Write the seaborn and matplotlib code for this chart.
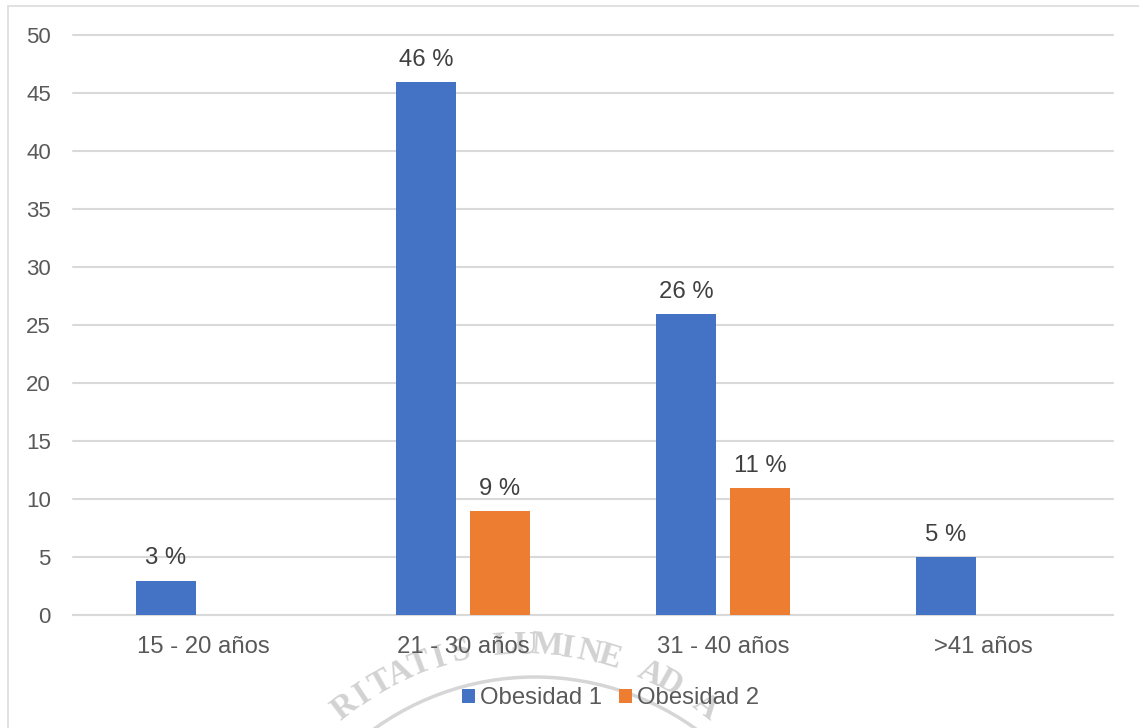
import numpy as np
import pandas as pd
import seaborn as sns
import matplotlib.pyplot as plt
from matplotlib.patches import Arc, Rectangle

categories = ['15 - 20 años', '21 - 30 años', '31 - 40 años', '>41 años']
obesidad_1 = [3, 46, 26, 5]
obesidad_2 = [np.nan, 9, 11, np.nan]
series_names = ['Obesidad 1', 'Obesidad 2']
y_ticks = [0, 5, 10, 15, 20, 25, 30, 35, 40, 45, 50]
watermark = 'RITATIS LUMINE AD A'

W, H = 1139, 728

sns.set_theme(style='white')
plt.rcParams['font.family'] = ['Liberation Sans', 'DejaVu Sans']

df = pd.DataFrame({'grupo': categories, series_names[0]: obesidad_1, series_names[1]: obesidad_2})
df = df.melt(id_vars='grupo', var_name='serie', value_name='valor')

fig = plt.figure(figsize=(W / 100, H / 100), dpi=100)
ax = fig.add_axes([73 / W, 1 - 615.4 / H, 1040 / W, 580 / H])
ax.set_zorder(2)

# chart frame of the pasted picture
fig.add_artist(Rectangle((8 / W, -0.01), 1140 / W, 1 - 6 / H + 0.01, transform=fig.transFigure,
                         fill=False, ec='#dedede', lw=1.3))

sns.barplot(data=df, x='grupo', y='valor', hue='serie', order=categories,
            palette=['#4472c4', '#ed7d31'], width=0.569, gap=0.2,
            saturation=1, linewidth=0, legend=True, ax=ax, zorder=3)

for cont in ax.containers:
    labels = ['' if np.isnan(v) else f'{v:.0f} %' for v in cont.datavalues]
    ax.bar_label(cont, labels=labels, padding=8, fontsize=17.2, color='#404040')

ax.set_xlim(-0.5, 3.5)
ax.set_ylim(0, 50)
ax.set_yticks(y_ticks)
ax.set_xlabel('')
ax.set_ylabel('')
ax.grid(axis='y', color='#d9d9d9', lw=1.5, zorder=0, clip_on=False)
ax.set_axisbelow(True)
ax.tick_params(axis='x', length=0, pad=15, labelsize=17.2, labelcolor='#595959')
ax.tick_params(axis='y', length=0, pad=16, labelsize=16, labelcolor='#595959')
ax.patch.set_alpha(0)
sns.despine(ax=ax, left=True, bottom=True)
ax.axhline(0, color='#d9d9d9', lw=1.5, zorder=1, clip_on=False)

leg = ax.legend(loc='center', bbox_to_anchor=(610.5 / W, 1 - 698.5 / H), bbox_transform=fig.transFigure,
                ncol=2, frameon=False, fontsize=17.2, handlelength=0.55, handleheight=0.55,
                handletextpad=0.2, columnspacing=0.7, labelcolor='#595959', title=None)

# faint seal behind the legend
cx, cy, r = 525, 939, 294
for i, ch in enumerate(watermark):
    ang = np.deg2rad(90 + (len(watermark) / 2 - i - 0.5) * 4.2)
    fig.text((cx + r * np.cos(ang)) / W, 1 - (cy - r * np.sin(ang)) / H, ch,
             rotation=np.rad2deg(ang) - 90, ha='center', va='center', fontweight='bold',
             fontsize=24, family='Liberation Serif', color='#d2d2d2', zorder=0)
fig.add_artist(Arc((535, H - 952), 2 * 275, 2 * 275, theta1=50, theta2=130, transform=None,
                   color='#d6d6d6', lw=2.5, zorder=0))

fig.savefig('out.png', dpi=100)
